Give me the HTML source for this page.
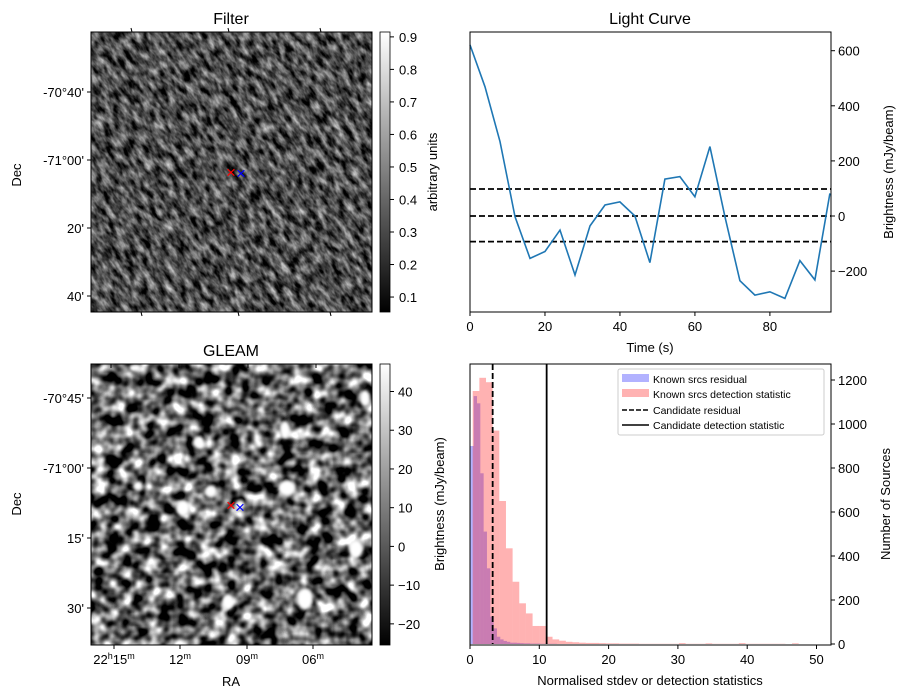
<!DOCTYPE html>
<html><head><meta charset="utf-8"><style>
body{margin:0;background:#fff;}
svg{display:block;font-family:"Liberation Sans","DejaVu Sans",sans-serif;}
</style></head><body>
<svg id="fig" width="907" height="699" viewBox="0 0 907 699" xmlns="http://www.w3.org/2000/svg">
<defs>
<filter id="fnoise" filterUnits="userSpaceOnUse" x="-200" y="-200" width="900" height="900" color-interpolation-filters="sRGB">
<feTurbulence type="fractalNoise" baseFrequency="0.17 0.08" numOctaves="3" seed="4"/>
<feColorMatrix type="matrix" values="1.25 0 0 0 -0.32  1.25 0 0 0 -0.32  1.25 0 0 0 -0.32  0 0 0 0 1"/>
</filter>
<filter id="gnoise" filterUnits="userSpaceOnUse" x="91" y="364" width="281" height="281" color-interpolation-filters="sRGB">
<feTurbulence type="fractalNoise" baseFrequency="0.075" numOctaves="2" seed="11"/>
<feColorMatrix type="matrix" values="2.4 0 0 0 -0.8  2.4 0 0 0 -0.8  2.4 0 0 0 -0.8  0 0 0 0 1"/>
</filter>
<filter id="blur2"><feGaussianBlur stdDeviation="1.5"/></filter>
<linearGradient id="cbar" x1="0" y1="1" x2="0" y2="0"><stop offset="0" stop-color="#000"/><stop offset="1" stop-color="#fff"/></linearGradient>
<clipPath id="gclip"><rect x="91" y="364" width="281" height="281"/></clipPath>
<clipPath id="fclip"><rect x="91" y="32" width="281" height="280"/></clipPath>
</defs>

<!-- Filter panel -->
<text x="231" y="24" font-size="16" text-anchor="middle">Filter</text>
<g clip-path="url(#fclip)">
<rect x="91" y="32" width="281" height="280" fill="#505050"/>
<g transform="rotate(-35 231 172)"><rect x="0" y="-60" width="470" height="470" filter="url(#fnoise)"/></g>
</g>
<rect x="91" y="32" width="281" height="280" fill="none" stroke="#000"/>
<text x="231" y="178" font-size="17" fill="red" text-anchor="middle">×</text>
<text x="241" y="179" font-size="17" fill="blue" text-anchor="middle">×</text>
<rect x="380" y="32" width="10" height="280" fill="url(#cbar)" stroke="#000" stroke-width="0.8"/>
<text transform="translate(437 172) rotate(-90)" font-size="13" text-anchor="middle">arbitrary units</text>
<text transform="translate(21 175) rotate(-90)" font-size="13" text-anchor="middle">Dec</text>

<!-- GLEAM panel -->
<text x="231" y="356" font-size="16" text-anchor="middle">GLEAM</text>
<g clip-path="url(#gclip)">
<rect x="91" y="364" width="281" height="281" filter="url(#gnoise)"/>
<g fill="#fff" filter="url(#blur2)">
<ellipse cx="183" cy="508" rx="7" ry="8"/><ellipse cx="199" cy="442" rx="5" ry="6"/>
<ellipse cx="138" cy="486" rx="5" ry="5"/><ellipse cx="287" cy="488" rx="9" ry="8"/>
<ellipse cx="285" cy="430" rx="5" ry="9"/><ellipse cx="356" cy="549" rx="7" ry="9"/>
<ellipse cx="305" cy="599" rx="8" ry="11"/><ellipse cx="211" cy="491" rx="6" ry="6"/>
<ellipse cx="240" cy="505" rx="5" ry="5"/><ellipse cx="228" cy="602" rx="6" ry="8"/>
<ellipse cx="135" cy="368" rx="6" ry="4"/><ellipse cx="365" cy="398" rx="5" ry="8"/>
</g>
</g>
<rect x="91" y="364" width="281" height="281" fill="none" stroke="#000"/>
<text x="231" y="511" font-size="17" fill="red" text-anchor="middle">×</text>
<text x="240" y="513" font-size="17" fill="blue" text-anchor="middle">×</text>
<rect x="380" y="364" width="10" height="281" fill="url(#cbar)" stroke="#000" stroke-width="0.8"/>
<text transform="translate(444 504) rotate(-90)" font-size="13" text-anchor="middle">Brightness (mJy/beam)</text>
<text transform="translate(21 504) rotate(-90)" font-size="13" text-anchor="middle">Dec</text>
<text x="231" y="686" font-size="13" text-anchor="middle">RA</text>

<g id="axes"></g>

<!-- Light curve -->
<text x="650" y="24" font-size="16" text-anchor="middle">Light Curve</text>
<g id="lc"></g>
<rect x="470" y="32" width="361" height="280" fill="none" stroke="#000"/>
<text x="650" y="352" font-size="13" text-anchor="middle">Time (s)</text>
<text transform="translate(893 172) rotate(-90)" font-size="13" text-anchor="middle">Brightness (mJy/beam)</text>

<!-- Histogram -->
<g id="hist"></g>
<rect x="470" y="364" width="361" height="281" fill="none" stroke="#000"/>
<text x="650" y="685" font-size="13" text-anchor="middle">Normalised stdev or detection statistics</text>
<text transform="translate(890 504) rotate(-90)" font-size="13" text-anchor="middle">Number of Sources</text>
<g>
<rect x="618" y="369" width="206" height="66" fill="#fff" fill-opacity="0.85" stroke="#ccc" rx="2"/>
<rect x="622" y="374" width="27" height="8" fill="rgba(0,0,255,0.3)"/>
<text x="653" y="383" font-size="10.5">Known srcs residual</text>
<rect x="622" y="389" width="27" height="8" fill="rgba(255,0,0,0.3)"/>
<text x="653" y="398" font-size="10.5">Known srcs detection statistic</text>
<line x1="622" y1="410" x2="649" y2="410" stroke="#000" stroke-width="1.5" stroke-dasharray="5 2"/>
<text x="653" y="414" font-size="10.5">Candidate residual</text>
<line x1="622" y1="425" x2="649" y2="425" stroke="#000" stroke-width="1.5"/>
<text x="653" y="429" font-size="10.5">Candidate detection statistic</text>
</g>
</svg>
<script>
const NS="http://www.w3.org/2000/svg";
function mk(parent,tag,attrs,text){const e=document.createElementNS(NS,tag);for(const k in attrs)e.setAttribute(k,attrs[k]);if(text!==undefined)e.textContent=text;parent.appendChild(e);return e;}

// ---- Light curve data ----
const lcTimes=[0,4,8,12,16,20,24,28,32,36,40,44,48,52,56,60,64,68,72,76,80,84,88,92,96];
const lcValues=[621,469,270,-2,-154,-129,-51,-214,-36,40,51,0,-169,134,143,70,252,-2,-235,-287,-275,-299,-162,-232,82];
const lcThresholds=[98,0,-93];
const lcXTicks=[0,20,40,60,80];
const lcYTicks=[600,400,200,0,-200];
const lcX=t=>470+(t-0)/(96.3)*361;
const lcY=v=>216-v*55.1/200;

// ---- Histogram data ----
const redStart=0.39, redWidth=0.96;
const redCounts=[1150,1210,1190,970,650,435,283,185,139,82,82,33,21,15,10,8,6,5,5,4,3,3,2,2,2,1,1,1,1,1,1,4,1,1,1,3,1,1,1,1,4,1,1,1,1,1,1,0,3,0];
const blueStart=0.05, blueWidth=0.48;
const blueCounts=[900,1127,1094,776,511,344,124,71,33,21,14,10,6,6,5,4,3,3,2,2,2,1,1,1,1,1];
const candidateResidual=3.27;
const candidateDetection=11.06;
const histXTicks=[0,10,20,30,40,50];
const histYTicks=[0,200,400,600,800,1000,1200];
const hX=v=>470+v*69.3/10;
const hY=c=>644-c*264/1200;

// ---- Image axes ticks ----
const filterDecTicks=["-70°40'","-71°00'","20'","40'"];
const filterDecPos=[92,160,228,296];
const filterCbTicks=[0.9,0.8,0.7,0.6,0.5,0.4,0.3,0.2,0.1];
const gleamDecTicks=["-70°45'","-71°00'","15'","30'"];
const gleamDecPos=[398,468,538,608];
const gleamCbTicks=[40,30,20,10,0,-10,-20];
const raTickPos=[114,180,247,313];

const ax=document.getElementById('axes');
filterDecTicks.forEach((t,i)=>{
  const y=filterDecPos[i];
  const l=mk(ax,'line',{x1:87,y1:y,x2:91,y2:y,stroke:'#000'});
  
  
  const tx=mk(ax,'text',{x:84,y:y+5,'font-size':13,'text-anchor':'end'},t);
  
  
});
filterCbTicks.forEach(v=>{
  const y=312-(v-0.054)/(0.915-0.054)*280;
  const l=mk(ax,'line',{x1:390,y1:y,x2:394,y2:y,stroke:'#000'});
  
  
  const tx=mk(ax,'text',{x:399,y:y+5,'font-size':13},v.toFixed(1));
  
  
});
gleamDecTicks.forEach((t,i)=>{
  const y=gleamDecPos[i];
  const l=mk(ax,'line',{x1:87,y1:y,x2:91,y2:y,stroke:'#000'});
  
  
  const tx=mk(ax,'text',{x:84,y:y+5,'font-size':13,'text-anchor':'end'},t);
  
  
});
gleamCbTicks.forEach(v=>{
  const y=644-(v+25.2)/(47.1+25.2)*280;
  const l=mk(ax,'line',{x1:390,y1:y,x2:394,y2:y,stroke:'#000'});
  
  
  const tx=mk(ax,'text',{x:398,y:y+5,'font-size':13},v<0?'−'+(-v):String(v));
  
  
});
const raLabels=[["22","h","15","m"],["12","m"],["09","m"],["06","m"]];
raTickPos.forEach((x,i)=>{
  const l=mk(ax,'line',{x1:x,y1:645,x2:x,y2:649,stroke:'#000'});
  
  
  mk(ax,'line',{x1:x+(i-1.5)*2,y1:364,x2:x+(i-1.5)*2,y2:368,stroke:'#000'});
  const tx=mk(ax,'text',{x:x,y:664,'font-size':13,'text-anchor':'middle'});
  
  
  const p=raLabels[i];
  for(let j=0;j<p.length;j++){
    mk(tx,'tspan',j%2?{'font-size':9,dy:-5}:{'font-size':13,dy:j?5:0},p[j]);
  }
});
[131,228,320].forEach(x=>{mk(ax,'line',{x1:x,y1:28,x2:x+1,y2:32,stroke:'#000'});mk(ax,'line',{x1:x+10,y1:312,x2:x+11,y2:316,stroke:'#000'});});

// ---- Draw light curve ----
const lc=document.getElementById('lc');
lcXTicks.forEach(v=>{
  const x=lcX(v);
  const l=mk(lc,'line',{x1:x,y1:312,x2:x,y2:316,stroke:'#000'});
  
  
  const t=mk(lc,'text',{x:x,y:331,'font-size':13,'text-anchor':'middle'},String(v));
  
  
});
lcYTicks.forEach(v=>{
  const y=lcY(v);
  const l=mk(lc,'line',{x1:831,y1:y,x2:835,y2:y,stroke:'#000'});
  
  
  const t=mk(lc,'text',{x:838,y:y+5,'font-size':13},v<0?'−'+(-v):String(v));
  
  
});
lcThresholds.forEach(v=>{
  const l=mk(lc,'line',{x1:470,y1:lcY(v),x2:831,y2:lcY(v),stroke:'#000','stroke-width':1.8,'stroke-dasharray':'6 3'});
  
  
});
const pts=lcTimes.map((t,i)=>lcX(t).toFixed(1)+','+lcY(lcValues[i]).toFixed(1)).join(' ');
const pl=mk(lc,'polyline',{points:pts,fill:'none',stroke:'#1f77b4','stroke-width':1.6});



// ---- Draw histogram ----
const h=document.getElementById('hist');
blueCounts.forEach((c,i)=>{
  const x0=hX(blueStart+i*blueWidth), x1=hX(blueStart+(i+1)*blueWidth);
  const r=mk(h,'rect',{x:x0,y:hY(c),width:x1-x0,height:644-hY(c),fill:'rgba(0,0,255,0.3)'});
  
  
});
redCounts.forEach((c,i)=>{
  if(c<=0)return;
  const x0=hX(redStart+i*redWidth), x1=Math.min(hX(redStart+(i+1)*redWidth),831);
  const r=mk(h,'rect',{x:x0,y:hY(c),width:x1-x0,height:644-hY(c),fill:'rgba(255,0,0,0.3)'});
  
  
});
const cr=mk(h,'line',{x1:hX(candidateResidual),y1:364,x2:hX(candidateResidual),y2:644,stroke:'#000','stroke-width':1.8,'stroke-dasharray':'6 3'});


const cd=mk(h,'line',{x1:hX(candidateDetection),y1:364,x2:hX(candidateDetection),y2:644,stroke:'#000','stroke-width':1.8});


histXTicks.forEach(v=>{
  const x=hX(v);
  const l=mk(h,'line',{x1:x,y1:645,x2:x,y2:649,stroke:'#000'});
  
  
  const t=mk(h,'text',{x:x,y:664,'font-size':13,'text-anchor':'middle'},String(v));
  
  
});
histYTicks.forEach(v=>{
  const y=hY(v);
  const l=mk(h,'line',{x1:831,y1:y,x2:835,y2:y,stroke:'#000'});
  
  
  const t=mk(h,'text',{x:838,y:y+5,'font-size':13},String(v));
  
  
});
</script>
</body></html>
